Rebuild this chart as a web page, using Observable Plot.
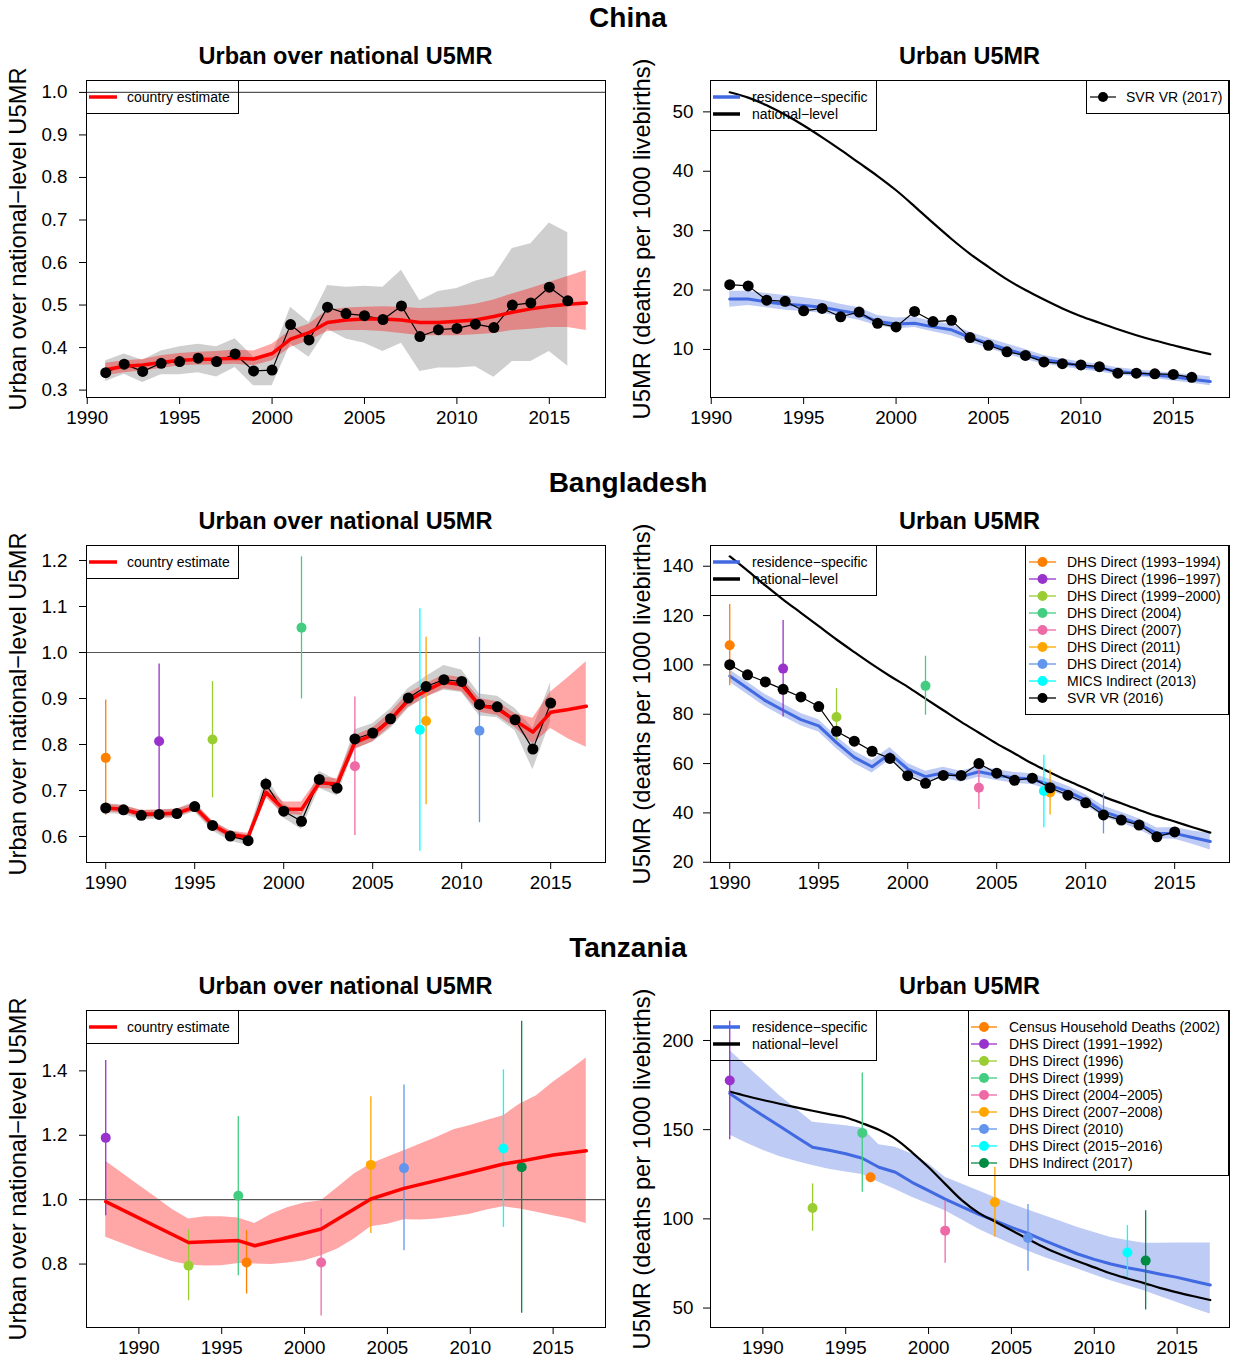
<!DOCTYPE html>
<html>
<head>
<meta charset="utf-8">
<script src="https://cdn.jsdelivr.net/npm/d3@7"></script>
<script src="https://cdn.jsdelivr.net/npm/@observablehq/plot@0.6"></script>
<style>
  html, body { margin: 0; padding: 0; background: #fff; }
  #page { position: relative; width: 1233px; height: 1358px; overflow: hidden; font-family: "Liberation Sans", Arial, Helvetica, sans-serif; color: #000; }
  .t { position: absolute; white-space: nowrap; line-height: 1; }
</style>
</head>
<body>
<div id="page"></div>
<script>
// ---------------- DATA ----------------
const countries = ["China", "Bangladesh", "Tanzania"];
const leftTitle = "Urban over national U5MR";
const rightTitle = "Urban U5MR";
const leftYLabel = "Urban over national\u2212level U5MR";
const rightYLabel = "U5MR (deaths per 1000 livebirths)";
const xTicks = [1990, 1995, 2000, 2005, 2010, 2015];

// China
const chinaYears = [1991,1992,1993,1994,1995,1996,1997,1998,1999,2000,2001,2002,2003,2004,2005,2006,2007,2008,2009,2010,2011,2012,2013,2014,2015,2016,2017];
const chinaObsYears = [1991,1992,1993,1994,1995,1996,1997,1998,1999,2000,2001,2002,2003,2004,2005,2006,2007,2008,2009,2010,2011,2012,2013,2014,2015,2016];
const chinaRatioEst = [0.348,0.356,0.359,0.365,0.370,0.372,0.373,0.375,0.373,0.386,0.420,0.435,0.459,0.465,0.467,0.467,0.465,0.459,0.459,0.462,0.465,0.473,0.483,0.491,0.497,0.502,0.505];
const chinaRatioLo = [0.334,0.341,0.345,0.351,0.357,0.359,0.359,0.361,0.357,0.369,0.400,0.416,0.438,0.440,0.440,0.438,0.433,0.428,0.428,0.428,0.430,0.433,0.440,0.443,0.447,0.447,0.440];
const chinaRatioHi = [0.363,0.369,0.372,0.381,0.386,0.389,0.391,0.394,0.392,0.408,0.440,0.455,0.488,0.493,0.495,0.496,0.495,0.492,0.493,0.496,0.502,0.512,0.526,0.539,0.553,0.567,0.581];
const chinaRatioObs = [0.341,0.361,0.344,0.363,0.367,0.375,0.367,0.385,0.345,0.347,0.454,0.418,0.495,0.480,0.475,0.466,0.498,0.426,0.442,0.445,0.455,0.447,0.500,0.505,0.542,0.510];
const chinaRatioObsLo = [0.320,0.337,0.318,0.336,0.336,0.341,0.331,0.353,0.310,0.310,0.408,0.377,0.443,0.420,0.410,0.391,0.410,0.344,0.352,0.352,0.355,0.330,0.367,0.367,0.391,0.356];
const chinaRatioObsHi = [0.369,0.385,0.370,0.392,0.402,0.408,0.402,0.421,0.378,0.381,0.495,0.459,0.546,0.542,0.544,0.542,0.582,0.510,0.532,0.539,0.556,0.567,0.633,0.644,0.693,0.670];
const chinaUrbanEst = [18.5,18.5,18.0,17.6,17.4,17.1,16.5,16.0,14.7,14.3,14.4,13.8,13.3,12.0,11.0,10.0,9.1,8.3,7.8,7.2,6.9,6.3,6.0,5.7,5.4,5.0,4.6];
const chinaUrbanLo = [17.1,17.4,17.0,16.6,16.4,16.1,15.5,14.9,14.0,13.5,13.7,13.0,12.3,11.2,10.2,9.2,8.3,7.5,7.1,6.6,6.2,5.7,5.4,5.1,4.7,4.3,3.9];
const chinaUrbanHi = [19.8,19.8,19.4,19.1,18.7,18.3,17.6,17.0,15.7,15.3,15.4,14.7,14.2,12.9,11.9,10.9,10.0,9.0,8.4,7.9,7.5,6.9,6.6,6.3,6.0,5.7,5.4];
const chinaNational = [53.3,52.4,51.1,49.5,47.7,45.7,43.6,41.4,39.2,36.8,34.1,31.3,28.6,26.1,23.9,21.8,20.0,18.4,16.9,15.6,14.5,13.4,12.4,11.5,10.7,9.9,9.2];
const chinaSvr = [20.9,20.7,18.3,18.1,16.5,16.9,15.5,16.3,14.4,13.8,16.4,14.7,14.9,12.0,10.7,9.6,9.0,7.9,7.6,7.4,7.1,6.0,6.0,5.9,5.8,5.3];
const chinaSvrName = "SVR VR (2017)";

// Bangladesh
const bgdYears = [1990,1991,1992,1993,1994,1995,1996,1997,1998,1999,2000,2001,2002,2003,2004,2005,2006,2007,2008,2009,2010,2011,2012,2013,2014,2015,2016,2017];
const bgdObsYears = [1990,1991,1992,1993,1994,1995,1996,1997,1998,1999,2000,2001,2002,2003,2004,2005,2006,2007,2008,2009,2010,2011,2012,2013,2014,2015];
const bgdRatioEst = [0.662,0.659,0.649,0.649,0.651,0.664,0.625,0.604,0.599,0.696,0.660,0.659,0.717,0.714,0.804,0.821,0.854,0.896,0.917,0.936,0.930,0.885,0.878,0.852,0.827,0.870,0.876,0.883];
const bgdRatioLo = [0.654,0.651,0.641,0.641,0.643,0.656,0.617,0.596,0.591,0.684,0.649,0.646,0.705,0.702,0.789,0.806,0.839,0.881,0.902,0.921,0.915,0.870,0.863,0.837,0.801,0.835,0.812,0.794];
const bgdRatioHi = [0.670,0.667,0.657,0.657,0.659,0.672,0.633,0.612,0.607,0.708,0.675,0.675,0.729,0.726,0.819,0.836,0.869,0.911,0.932,0.951,0.945,0.900,0.893,0.867,0.857,0.914,0.946,0.980];
const bgdRatioObs = [0.662,0.658,0.646,0.648,0.650,0.665,0.624,0.601,0.591,0.714,0.655,0.633,0.724,0.705,0.812,0.825,0.856,0.901,0.926,0.941,0.937,0.887,0.882,0.854,0.790,0.890];
const bgdRatioObsLo = [0.650,0.648,0.636,0.638,0.640,0.654,0.612,0.590,0.580,0.695,0.640,0.615,0.705,0.688,0.790,0.805,0.834,0.878,0.903,0.918,0.913,0.862,0.858,0.830,0.745,0.850];
const bgdRatioObsHi = [0.672,0.668,0.656,0.658,0.660,0.675,0.634,0.612,0.602,0.730,0.670,0.650,0.742,0.722,0.832,0.845,0.877,0.922,0.948,0.972,0.962,0.910,0.905,0.878,0.835,0.935];
const bgdUrbanEst = [95.5,90.5,85.5,81.6,77.8,75.3,68.5,62.5,58.7,64.0,57.8,54.7,56.3,54.7,56.7,55.3,54.2,53.7,51.3,48.6,45.2,40.5,38.1,35.4,31.7,31.7,30.0,28.4];
const bgdUrbanLo = [93.0,88.0,83.0,79.1,75.3,72.8,66.0,60.0,56.2,61.5,55.6,52.5,54.1,52.5,54.5,53.1,52.0,51.5,49.1,46.4,43.0,38.3,35.9,33.2,29.5,29.3,27.3,25.0];
const bgdUrbanHi = [98.0,93.0,88.0,84.1,80.3,77.8,71.0,65.0,61.2,66.5,60.0,56.9,58.5,56.9,58.9,57.5,56.4,55.9,53.5,50.8,47.4,42.7,40.3,37.6,33.9,34.1,32.7,31.8];
const bgdNational = [144.0,138.2,132.2,126.5,121.1,115.7,110.3,105.2,100.2,95.5,91.1,86.3,81.6,76.9,72.5,68.1,64.1,60.0,56.4,53.0,49.9,46.6,43.9,41.2,38.7,36.5,34.2,32.0];
const bgdSvr = [100.1,96.0,93.1,90.1,87.0,83.1,73.1,69.1,65.0,62.1,55.1,52.0,55.2,55.2,60.0,56.1,53.2,54.1,50.2,47.2,44.1,39.2,37.1,35.1,30.3,32.3];
const bgdSvrName = "SVR VR (2016)";
const bgdSurveyNames = ["DHS Direct (1993\u22121994)","DHS Direct (1996\u22121997)","DHS Direct (1999\u22122000)","DHS Direct (2004)","DHS Direct (2007)","DHS Direct (2011)","DHS Direct (2014)","MICS Indirect (2013)"];
const bgdSurveyColors = ["#FF7F00","#9932CC","#9ACD32","#43CD80","#EE6AA7","#FFA500","#6495ED","#00FFFF"];
const bgdSurveyYears = [1990,1993,1996,2001,2004,2008,2011,2007.65];
const bgdSurveyRatio = [0.771,0.807,0.811,1.054,0.753,0.851,0.830,0.832];
const bgdSurveyRatioLo = [0.646,0.653,0.684,0.899,0.602,0.669,0.630,0.568];
const bgdSurveyRatioHi = [0.897,0.975,0.937,1.208,0.903,1.033,1.033,1.095];
const bgdSurveyU5 = [108.0,98.5,78.9,91.5,50.2,48.3,39.5,48.9];
const bgdSurveyU5Lo = [91.5,78.9,69.5,79.6,41.4,39.2,31.5,34.0];
const bgdSurveyU5Hi = [124.5,118.0,90.4,103.5,59.4,57.4,48.0,63.4];

// Tanzania
const tzaYears = [1988,1989,1990,1991,1992,1993,1994,1995,1996,1997,1998,1999,2000,2001,2002,2003,2004,2005,2006,2007,2008,2009,2010,2011,2012,2013,2014,2015,2016,2017];
const tzaLineYears = [1988,1993,1996,1997,2001,2004,2006,2008,2010,2012,2013,2015,2017];
const tzaRatioEst = [0.994,0.867,0.873,0.857,0.909,1.002,1.035,1.060,1.085,1.111,1.119,1.139,1.152];
const tzaRatioLo = [0.883,0.864,0.844,0.826,0.808,0.797,0.794,0.795,0.802,0.800,0.799,0.803,0.810,0.826,0.847,0.878,0.916,0.924,0.938,0.937,0.940,0.947,0.955,0.968,0.978,0.971,0.961,0.950,0.940,0.926];
const tzaRatioHi = [1.119,1.082,1.045,1.008,0.970,0.940,0.947,0.947,0.943,0.926,0.955,0.976,0.990,0.997,1.038,1.080,1.111,1.132,1.152,1.173,1.194,1.217,1.230,1.246,1.261,1.297,1.323,1.365,1.401,1.440];
const tzaUrbanEst = [170.3,164.0,158.0,152.0,146.0,140.1,138.5,136.5,134.0,128.9,126.1,120.5,115.8,111.1,106.8,102.7,99.0,95.2,91.9,87.8,84.0,80.3,77.3,74.7,72.6,70.9,69.0,67.2,65.0,62.9];
const tzaUrbanLo = [147.0,142.5,138.5,135.0,132.3,129.9,127.8,126.2,124.8,120.5,116.5,112.1,108.3,104.6,99.5,94.3,90.0,85.9,82.0,78.4,75.1,71.9,68.5,65.3,62.5,59.7,56.4,53.1,49.8,46.6];
const tzaUrbanHi = [194.4,186.0,177.6,169.1,161.7,154.2,153.2,152.2,151.0,141.6,140.2,136.4,130.8,123.3,119.5,115.8,112.0,108.4,105.0,101.8,98.5,95.2,92.3,89.6,87.8,86.3,86.3,86.5,86.5,86.5];
const tzaNational = [171.4,168.9,166.6,164.5,162.5,160.6,158.7,156.8,153.6,149.9,144.8,137.3,128.9,119.6,110.5,103.5,98.5,93.6,88.7,84.0,79.9,76.2,72.8,69.4,66.6,64.0,61.2,58.8,56.6,54.5];
const tzaSurveyNames = ["Census Household Deaths (2002)","DHS Direct (1991\u22121992)","DHS Direct (1996)","DHS Direct (1999)","DHS Direct (2004\u22122005)","DHS Direct (2007\u22122008)","DHS Direct (2010)","DHS Direct (2015\u22122016)","DHS Indirect (2017)"];
const tzaSurveyColors = ["#FF7F00","#9932CC","#9ACD32","#43CD80","#EE6AA7","#FFA500","#6495ED","#00FFFF","#008B45"];
const tzaSurveyYears = [1996.5,1988,1993,1996,2001,2004,2006,2012,2013.1];
const tzaSurveyRatio = [0.805,1.192,0.795,1.012,0.805,1.108,1.098,1.159,1.101];
const tzaSurveyRatioLo = [0.707,0.950,0.686,0.764,0.639,0.895,0.841,0.914,0.647];
const tzaSurveyRatioHi = [0.904,1.432,0.906,1.258,0.971,1.320,1.356,1.403,1.554];
const tzaSurveyU5 = [123.3,177.6,106.1,148.2,93.4,109.3,89.3,81.1,76.6];
const tzaSurveyU5Lo = [123.3,144.3,93.0,114.9,75.1,89.7,70.6,67.2,48.9];
const tzaSurveyU5Hi = [123.3,210.8,119.6,181.7,110.2,128.9,108.0,96.2,104.6];

// ---------------- HELPERS ----------------
const FONT = '"Liberation Sans", Arial, Helvetica, sans-serif';
const page = document.getElementById("page");
const ROW_TOP = [80, 545, 1010];
const BOX_H = 317;
const RED = "#FF0000", BLUE = "#4169E1", GREY = "#CFCFCF";

function tbl(xs, cols) {
  return xs.map((x, i) => {
    const o = {x};
    for (const k in cols) o[k] = cols[k][i];
    return o;
  });
}

function panel({side, row, xDomain, yDomain, yTicks, yFormat, marks}) {
  const ml = side === 0 ? 86 : 92, mr = side === 0 ? 10 : 4;
  const svg = Plot.plot({
    width: 615,
    height: 10 + BOX_H + 40,
    marginTop: 10, marginBottom: 40, marginLeft: ml, marginRight: mr,
    x: {domain: xDomain},
    y: {domain: yDomain},
    color: {type: "identity"},
    style: {fontFamily: FONT, fontSize: "18.8px", background: "transparent", color: "#000"},
    marks: [
      ...marks,
      Plot.frame({stroke: "#000", strokeWidth: 1}),
      Plot.axisX(xTicks, {tickSize: 7, tickPadding: 6, tickFormat: d => String(d), label: null}),
      Plot.axisY(yTicks, {tickSize: 7, tickPadding: side === 0 ? 12 : 10, tickFormat: yFormat, label: null})
    ]
  });
  svg.style.position = "absolute";
  svg.style.left = (side === 0 ? 0 : 618) + "px";
  svg.style.top = (ROW_TOP[row] - 10) + "px";
  page.appendChild(svg);
}

function text(str, cx, cy, size, bold, rotate) {
  const d = document.createElement("div");
  d.className = "t";
  d.textContent = str;
  d.style.left = cx + "px";
  d.style.top = cy + "px";
  d.style.fontSize = size + "px";
  d.style.fontWeight = bold ? "bold" : "normal";
  d.style.transform = `translate(-50%,-50%) rotate(${rotate || 0}deg)`;
  page.appendChild(d);
}

function legend({box, items, x0, x1, tx, y0, step}) {
  const b = document.createElement("div");
  b.style.cssText = `position:absolute;left:${box[0]}px;top:${box[1]}px;width:${box[2]-box[0]}px;height:${box[3]-box[1]}px;border:1px solid #000;box-sizing:border-box;`;
  page.appendChild(b);
  items.forEach((it, i) => {
    const y = y0 + i * step;
    const w = x1 - x0;
    const s = document.createElement("div");
    s.style.cssText = `position:absolute;left:${x0}px;top:${y - 7}px;width:${w}px;height:14px;`;
    s.innerHTML = `<svg width="${w}" height="14" style="display:block;overflow:visible">` +
      `<line x1="0" x2="${w}" y1="7" y2="7" stroke="${it.color}" stroke-width="${it.lw}"/>` +
      (it.dot ? `<circle cx="${w / 2}" cy="7" r="5" fill="${it.color}"/>` : "") + `</svg>`;
    page.appendChild(s);
    const t = document.createElement("div");
    t.className = "t";
    t.textContent = it.label;
    t.style.cssText += `left:${tx}px;top:${y}px;font-size:14px;transform:translateY(-50%);`;
    page.appendChild(t);
  });
}

const fmt1 = d3.format(".1f");
const fmtInt = d => String(d);

function ratioMarks({est, obs, surveys}) {
  const m = [];
  if (obs) m.push(Plot.areaY(obs, {x: "x", y1: "lo", y2: "hi", fill: GREY}));
  m.push(Plot.areaY(est.band, {x: "x", y1: "lo", y2: "hi", fill: RED, fillOpacity: 0.35}));
  m.push(Plot.ruleY([1], {stroke: "#555", strokeWidth: 1.2}));
  if (surveys) {
    m.push(Plot.ruleX(surveys, {x: "x", y1: "lo", y2: "hi", stroke: "color", strokeWidth: 1.3}));
    m.push(Plot.dot(surveys, {x: "x", y: "v", r: 5, fill: "color", stroke: null}));
  }
  if (obs) m.push(Plot.line(obs, {x: "x", y: "v", stroke: "#000", strokeWidth: 1.2}));
  m.push(Plot.line(est.line, {x: "x", y: "v", stroke: RED, strokeWidth: 3.5}));
  if (obs) m.push(Plot.dot(obs, {x: "x", y: "v", r: 5.5, fill: "#000", stroke: null}));
  return m;
}

function urbanMarks({est, national, svr, surveys}) {
  const m = [];
  m.push(Plot.areaY(est, {x: "x", y1: "lo", y2: "hi", fill: BLUE, fillOpacity: 0.35}));
  m.push(Plot.line(est, {x: "x", y: "v", stroke: BLUE, strokeWidth: 3}));
  m.push(Plot.line(national, {x: "x", y: "v", stroke: "#000", strokeWidth: 2.2, curve: "monotone-x"}));
  if (surveys) {
    m.push(Plot.ruleX(surveys, {x: "x", y1: "lo", y2: "hi", stroke: "color", strokeWidth: 1.3}));
    m.push(Plot.dot(surveys, {x: "x", y: "v", r: 5, fill: "color", stroke: null}));
  }
  if (svr) {
    m.push(Plot.line(svr, {x: "x", y: "v", stroke: "#000", strokeWidth: 1.2}));
    m.push(Plot.dot(svr, {x: "x", y: "v", r: 5.5, fill: "#000", stroke: null}));
  }
  return m;
}

function surveyTable(years, names, colors, v, lo, hi) {
  return years.map((x, i) => ({x, name: names[i], color: colors[i], v: v[i], lo: lo[i], hi: hi[i]}));
}

// ---------------- CHINA ----------------
const chinaX = [1989.96, 2018.04];
panel({
  side: 0, row: 0, xDomain: chinaX, yDomain: [0.2826, 1.028],
  yTicks: [0.3,0.4,0.5,0.6,0.7,0.8,0.9,1.0], yFormat: fmt1,
  marks: ratioMarks({
    est: {band: tbl(chinaYears, {lo: chinaRatioLo, hi: chinaRatioHi}), line: tbl(chinaYears, {v: chinaRatioEst})},
    obs: tbl(chinaObsYears, {v: chinaRatioObs, lo: chinaRatioObsLo, hi: chinaRatioObsHi})
  })
});
panel({
  side: 1, row: 0, xDomain: chinaX, yDomain: [1.91, 55.28],
  yTicks: [10,20,30,40,50], yFormat: fmtInt,
  marks: urbanMarks({
    est: tbl(chinaYears, {v: chinaUrbanEst, lo: chinaUrbanLo, hi: chinaUrbanHi}),
    national: tbl(chinaYears, {v: chinaNational}),
    svr: tbl(chinaObsYears, {v: chinaSvr})
  })
});

// ---------------- BANGLADESH ----------------
const bgdX = [1988.92, 2018.08];
const bgdSurveysRatio = surveyTable(bgdSurveyYears, bgdSurveyNames, bgdSurveyColors, bgdSurveyRatio, bgdSurveyRatioLo, bgdSurveyRatioHi);
const bgdSurveysU5 = surveyTable(bgdSurveyYears, bgdSurveyNames, bgdSurveyColors, bgdSurveyU5, bgdSurveyU5Lo, bgdSurveyU5Hi);
panel({
  side: 0, row: 1, xDomain: bgdX, yDomain: [0.5435, 1.2326],
  yTicks: [0.6,0.7,0.8,0.9,1.0,1.1,1.2], yFormat: fmt1,
  marks: ratioMarks({
    est: {band: tbl(bgdYears, {lo: bgdRatioLo, hi: bgdRatioHi}), line: tbl(bgdYears, {v: bgdRatioEst})},
    obs: tbl(bgdObsYears, {v: bgdRatioObs, lo: bgdRatioObsLo, hi: bgdRatioObsHi}),
    surveys: bgdSurveysRatio
  })
});
panel({
  side: 1, row: 1, xDomain: bgdX, yDomain: [19.9, 148.4],
  yTicks: [20,40,60,80,100,120,140], yFormat: fmtInt,
  marks: urbanMarks({
    est: tbl(bgdYears, {v: bgdUrbanEst, lo: bgdUrbanLo, hi: bgdUrbanHi}),
    national: tbl(bgdYears, {v: bgdNational}),
    svr: tbl(bgdObsYears, {v: bgdSvr}),
    surveys: bgdSurveysU5
  })
});

// ---------------- TANZANIA ----------------
const tzaX = [1986.84, 2018.16];
const tzaSurveysRatio = surveyTable(tzaSurveyYears, tzaSurveyNames, tzaSurveyColors, tzaSurveyRatio, tzaSurveyRatioLo, tzaSurveyRatioHi);
const tzaSurveysU5 = surveyTable(tzaSurveyYears, tzaSurveyNames, tzaSurveyColors, tzaSurveyU5, tzaSurveyU5Lo, tzaSurveyU5Hi);
panel({
  side: 0, row: 2, xDomain: tzaX, yDomain: [0.603, 1.5875],
  yTicks: [0.8,1.0,1.2,1.4], yFormat: fmt1,
  marks: ratioMarks({
    est: {band: tbl(tzaYears, {lo: tzaRatioLo, hi: tzaRatioHi}), line: tbl(tzaLineYears, {v: tzaRatioEst})},
    surveys: tzaSurveysRatio
  })
});
panel({
  side: 1, row: 2, xDomain: tzaX, yDomain: [39.1, 216.8],
  yTicks: [50,100,150,200], yFormat: fmtInt,
  marks: urbanMarks({
    est: tbl(tzaYears, {v: tzaUrbanEst, lo: tzaUrbanLo, hi: tzaUrbanHi}),
    national: tbl(tzaYears, {v: tzaNational}),
    surveys: tzaSurveysU5
  })
});

// ---------------- TEXT & LEGENDS ----------------
countries.forEach((c, r) => {
  const top = ROW_TOP[r];
  const mid = top + BOX_H / 2;
  text(c, 628, top - 62, 28, true);
  text(leftTitle, 345.5, top - 23, 23.5, true);
  text(rightTitle, 969.5, top - 23, 23.5, true);
  text(leftYLabel, 19, mid, 23.7, false, -90);
  text(rightYLabel, 643, mid, 23.7, false, -90);

  legend({
    box: [86, top, 239, top + 34],
    items: [{label: "country estimate", color: RED, lw: 3.5}],
    x0: 89, x1: 117, tx: 127, y0: top + 17, step: 17
  });
  legend({
    box: [710, top, 877, top + 51],
    items: [
      {label: "residence\u2212specific", color: BLUE, lw: 3.5},
      {label: "national\u2212level", color: "#000", lw: 3.5}
    ],
    x0: 713, x1: 740, tx: 752, y0: top + 17, step: 17
  });
});

legend({
  box: [1086, ROW_TOP[0], 1229, ROW_TOP[0] + 34],
  items: [{label: chinaSvrName, color: "#000", lw: 1.2, dot: true}],
  x0: 1090, x1: 1116, tx: 1126, y0: ROW_TOP[0] + 17, step: 17
});
legend({
  box: [1025, ROW_TOP[1], 1229, ROW_TOP[1] + 170],
  items: [
    ...bgdSurveyNames.map((n, i) => ({label: n, color: bgdSurveyColors[i], lw: 1.3, dot: true})),
    {label: bgdSvrName, color: "#000", lw: 1.3, dot: true}
  ],
  x0: 1029, x1: 1056, tx: 1067, y0: ROW_TOP[1] + 17, step: 17
});
legend({
  box: [968, ROW_TOP[2], 1229, ROW_TOP[2] + 166],
  items: tzaSurveyNames.map((n, i) => ({label: n, color: tzaSurveyColors[i], lw: 1.3, dot: true})),
  x0: 971, x1: 997, tx: 1009, y0: ROW_TOP[2] + 17, step: 17
});
</script>
</body>
</html>
